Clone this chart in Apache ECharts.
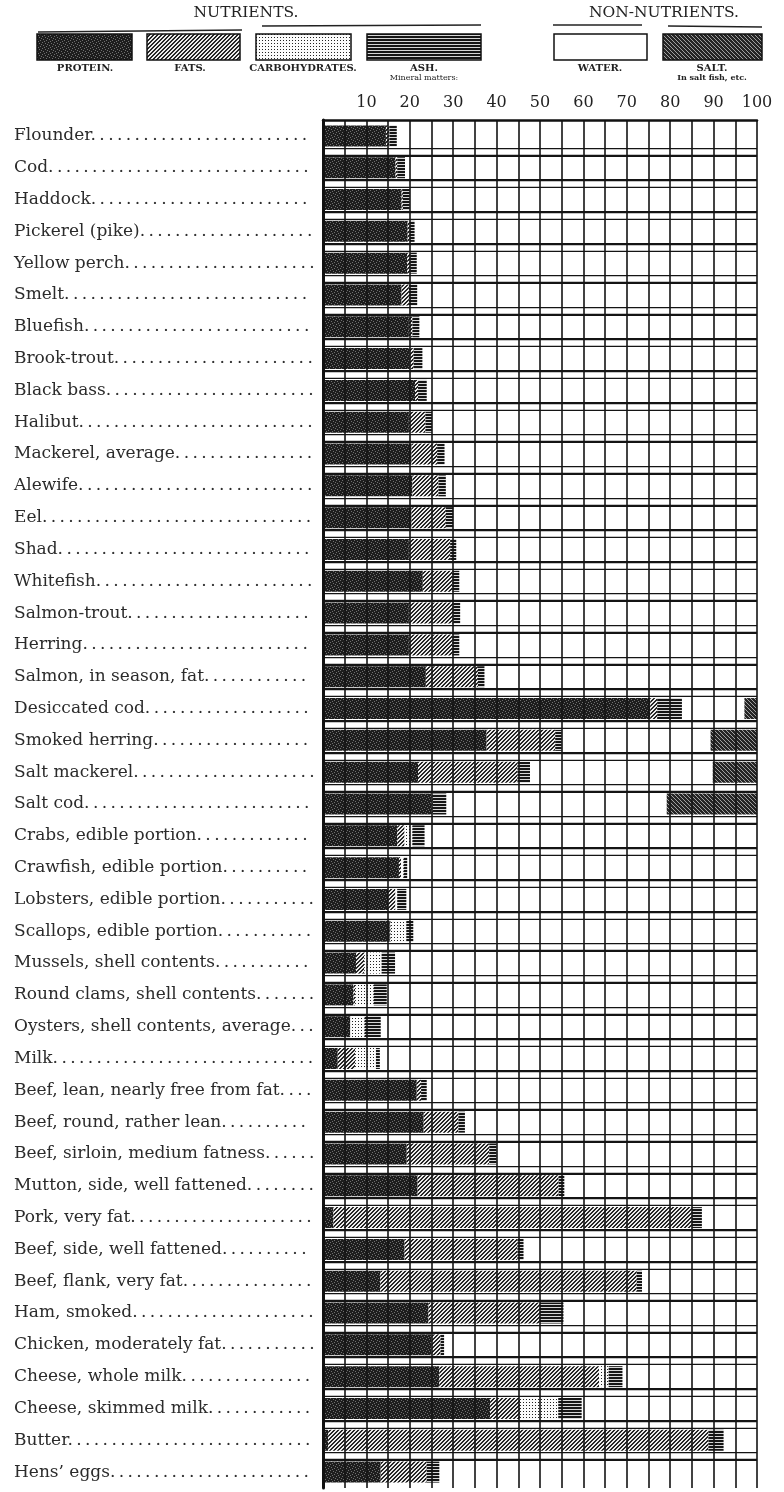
<!DOCTYPE html>
<html>
<head>
<meta charset="utf-8">
<script src="https://cdn.jsdelivr.net/npm/echarts@6.0.0/dist/echarts.min.js"></script>
<style>
html,body{margin:0;padding:0;background:#fff;}
#c{width:784px;height:1492px;}
</style>
</head>
<body>
<div id="c"></div>
<script>
// ---------------- data (percent composition) ----------------
const categories = [
  "Flounder", "Cod", "Haddock", "Pickerel (pike)", "Yellow perch", "Smelt", "Bluefish",
  "Brook-trout", "Black bass", "Halibut", "Mackerel, average", "Alewife", "Eel", "Shad",
  "Whitefish", "Salmon-trout", "Herring", "Salmon, in season, fat", "Desiccated cod",
  "Smoked herring", "Salt mackerel", "Salt cod", "Crabs, edible portion",
  "Crawfish, edible portion", "Lobsters, edible portion", "Scallops, edible portion",
  "Mussels, shell contents", "Round clams, shell contents", "Oysters, shell contents, average",
  "Milk", "Beef, lean, nearly free from fat", "Beef, round, rather lean",
  "Beef, sirloin, medium fatness", "Mutton, side, well fattened", "Pork, very fat",
  "Beef, side, well fattened", "Beef, flank, very fat", "Ham, smoked",
  "Chicken, moderately fat", "Cheese, whole milk", "Cheese, skimmed milk", "Butter",
  "Hens\u2019 eggs"
];
const protein = [14.5, 16.7, 18.1, 19.5, 19.4, 18.1, 19.8, 20.0, 21.2, 19.8, 20.4, 20.6, 20.4, 19.8,
  23.0, 19.8, 19.8, 23.7, 75.4, 37.7, 21.9, 25.0, 17.1, 17.5, 15.0, 15.4, 7.6, 7.0, 6.3, 3.4,
  21.6, 23.2, 19.3, 21.8, 2.4, 18.8, 13.2, 24.3, 25.0, 26.8, 38.5, 1.2, 13.3];
const fats = [0.8, 0.4, 0.3, 0.5, 0.7, 1.7, 0.8, 0.9, 0.7, 3.8, 5.9, 6.0, 7.9, 9.5,
  6.8, 10.2, 10.0, 12.0, 1.6, 15.8, 22.9, 0.3, 1.7, 0.5, 1.7, 0.2, 1.9, 0.4, 0, 4.0,
  1.0, 8.0, 19.0, 32.5, 82.6, 26.0, 59.1, 25.7, 2.1, 36.8, 6.9, 87.6, 10.6];
const carbohydrates = [0, 0, 0, 0, 0, 0, 0, 0, 0, 0, 0, 0, 0, 0,
  0, 0, 0, 0, 0, 0, 0, 0, 1.8, 0.6, 0.4, 3.6, 4.0, 4.3, 3.3, 4.8,
  0, 0, 0, 0, 0, 0, 0, 0, 0, 2.2, 8.8, 0, 0];
const ash = [1.7, 1.8, 1.6, 1.1, 1.5, 1.9, 1.6, 2.0, 2.0, 1.5, 1.7, 1.7, 1.7, 1.4,
  1.6, 1.6, 1.6, 1.5, 5.7, 1.5, 2.9, 3.1, 2.8, 0.8, 2.1, 1.6, 3.1, 3.0, 3.7, 0.9,
  1.3, 1.5, 1.7, 1.3, 2.3, 1.4, 1.2, 5.4, 0.8, 3.2, 5.4, 3.5, 2.9];
const water = [83.0, 81.1, 80.0, 78.9, 78.4, 78.3, 77.8, 77.1, 76.1, 74.9, 72.0, 71.7, 70.0, 69.3,
  68.6, 68.4, 68.6, 62.8, 14.4, 34.3, 42.1, 50.8, 76.6, 80.6, 80.8, 79.2, 83.4, 85.3, 86.7, 86.9,
  76.1, 67.3, 60.0, 44.4, 12.7, 53.8, 26.5, 44.6, 72.1, 31.0, 40.4, 7.7, 73.2];
const salt = [0, 0, 0, 0, 0, 0, 0, 0, 0, 0, 0, 0, 0, 0,
  0, 0, 0, 0, 2.9, 10.7, 10.2, 20.8, 0, 0, 0, 0, 0, 0, 0, 0,
  0, 0, 0, 0, 0, 0, 0, 0, 0, 0, 0, 0, 0];
const tickLabels = ["10", "20", "30", "40", "50", "60", "70", "80", "90", "100"];
const legendNames = ["PROTEIN.", "FATS.", "CARBOHYDRATES.", "ASH.", "WATER.", "SALT."];

// ---------------- patterns ----------------
function makePattern(w, h, bg, fg, test) {
  const c = document.createElement('canvas');
  c.width = w; c.height = h;
  const ctx = c.getContext('2d');
  ctx.fillStyle = bg; ctx.fillRect(0, 0, w, h);
  ctx.fillStyle = fg;
  for (let y = 0; y < h; y++) for (let x = 0; x < w; x++) if (test(x, y)) ctx.fillRect(x, y, 1, 1);
  return { image: c, repeat: 'repeat' };
}
const stip = [[0,0],[3,1],[1,3],[4,4],[2,5],[5,2]].map(p => p.join(','));
const P = {
  protein: makePattern(6, 6, '#1d1d1d', '#6f6f6f', (x, y) => stip.includes(x + ',' + y)),
  fats: makePattern(4, 4, '#ececec', '#262626', (x, y) => (x + y) % 4 === 3 || (x + y) % 4 === 0),
  carbs: makePattern(3, 3, '#fbfbfb', '#222', (x, y) => x === 1 && y === 1),
  ash: makePattern(2, 3, '#161616', '#d6d6d6', (x, y) => y === 2),
  water: '#ffffff',
  salt: makePattern(4, 4, '#252525', '#a0a0a0', (x, y) => (x - y + 4) % 4 === 0)
};

// ---------------- label dot leaders ----------------
const LABEL_FONT = '17px "DejaVu Serif"';
const mctx = document.createElement('canvas').getContext('2d');
mctx.font = LABEL_FONT;
const DOT = '.\u2009';
const dotW = mctx.measureText(DOT).width;
function leader(name) {
  const avail = 304 - mctx.measureText(name).width;
  const n = Math.max(1, Math.floor(avail / dotW));
  return name + DOT.repeat(n);
}

// ---------------- chart ----------------
const chart = echarts.init(document.getElementById('c'), null, { renderer: 'canvas' });
const GRID = { left: 323, right: 27, top: 120, height: 1368 };

function barSeries(name, data, color) {
  return {
    name, type: 'bar', stack: 'all', data, barWidth: 21,
    xAxisIndex: 0, yAxisIndex: 0,
    itemStyle: { color }, emphasis: { disabled: true }, silent: true
  };
}

const boxes = [
  { x: 37, w: 95, fill: P.protein, label: legendNames[0], cx: 85 },
  { x: 147, w: 93, fill: P.fats, label: legendNames[1], cx: 190 },
  { x: 256, w: 95, fill: P.carbs, label: legendNames[2], cx: 303 },
  { x: 367, w: 114, fill: P.ash, label: legendNames[3], cx: 424, sub: 'Mineral matters:' },
  { x: 554, w: 93, fill: '#fff', label: legendNames[4], cx: 600 },
  { x: 663, w: 99, fill: P.salt, label: legendNames[5], cx: 712, sub: 'In salt fish, etc.' }
];
const graphics = [];
graphics.push({ type: 'text', style: { text: 'NUTRIENTS.', x: 246, y: 13, align: 'center', verticalAlign: 'middle',
  fontFamily: 'DejaVu Serif', fontSize: 15.5, fill: '#222' } });
graphics.push({ type: 'text', style: { text: 'NON-NUTRIENTS.', x: 664, y: 13, align: 'center', verticalAlign: 'middle',
  fontFamily: 'DejaVu Serif', fontSize: 15.5, fill: '#222' } });
[[38, 32, 242, 30], [262, 26, 481, 25], [553, 25, 642, 25], [668, 26, 762, 27]].forEach(l => {
  graphics.push({ type: 'line', shape: { x1: l[0], y1: l[1], x2: l[2], y2: l[3] }, style: { stroke: '#222', lineWidth: 1.6 } });
});
boxes.forEach(b => {
  graphics.push({ type: 'rect', shape: { x: b.x, y: 34, width: b.w, height: 26 },
    style: { fill: b.fill, stroke: '#111', lineWidth: 1.5 } });
  graphics.push({ type: 'text', style: { text: b.label, x: b.cx, y: 68, align: 'center', verticalAlign: 'middle',
    fontFamily: 'DejaVu Serif', fontSize: 10, fontWeight: 'bold', fill: '#222' } });
  if (b.sub) graphics.push({ type: 'text', style: { text: b.sub, x: b.cx, y: 78, align: 'center', verticalAlign: 'middle',
    fontFamily: 'DejaVu Serif', fontSize: 8, fontWeight: b.sub.startsWith('In') ? 'bold' : 'normal', fill: '#222' } });
});

const option = {
  animation: false,
  backgroundColor: '#fff',
  grid: [Object.assign({}, GRID), Object.assign({}, GRID), Object.assign({}, GRID)],
  xAxis: [
    { type: 'value', gridIndex: 0, min: 0, max: 100, interval: 5, position: 'top', z: 3,
      axisLine: { show: true, lineStyle: { color: '#111', width: 2.5 } },
      axisTick: { show: false },
      axisLabel: { margin: 9, fontFamily: 'DejaVu Serif', fontSize: 16, color: '#222',
        formatter: v => (v % 10 === 0 && v > 0) ? tickLabels[v / 10 - 1] : '' },
      splitLine: { show: true, lineStyle: { color: '#141414', width: 1.6 } } },
    { type: 'value', gridIndex: 1, min: 0, max: 100, show: false },
    { type: 'value', gridIndex: 2, min: 0, max: 100, show: false }
  ],
  yAxis: [
    { type: 'category', gridIndex: 0, data: categories, inverse: true, z: 3,
      axisLine: { show: true, lineStyle: { color: '#111', width: 3 } },
      axisTick: { show: false },
      splitLine: { show: false },
      axisLabel: { interval: 0, align: 'left', margin: 309, fontFamily: 'DejaVu Serif', fontSize: 17,
        color: '#2b2b2b', formatter: v => leader(v) } },
    { type: 'category', gridIndex: 1, data: categories, inverse: true, z: 0,
      axisLine: { show: false }, axisTick: { show: false }, axisLabel: { show: false },
      splitLine: { show: true, interval: 0, showMinLine: false, showMaxLine: false,
        lineStyle: { color: '#141414', width: 9 } } },
    { type: 'category', gridIndex: 2, data: categories, inverse: true, z: 1,
      axisLine: { show: false }, axisTick: { show: false }, axisLabel: { show: false },
      splitLine: { show: true, interval: 0, showMinLine: false, showMaxLine: false,
        lineStyle: { color: '#ffffff', width: 5.5 } } }
  ],
  graphic: graphics,
  series: [
    barSeries('Protein', protein, P.protein),
    barSeries('Fats', fats, P.fats),
    barSeries('Carbohydrates', carbohydrates, P.carbs),
    barSeries('Ash', ash, P.ash),
    barSeries('Water', water, 'rgba(255,255,255,0)'),
    barSeries('Salt', salt, P.salt)
  ]
};
chart.setOption(option);
</script>
</body>
</html>
